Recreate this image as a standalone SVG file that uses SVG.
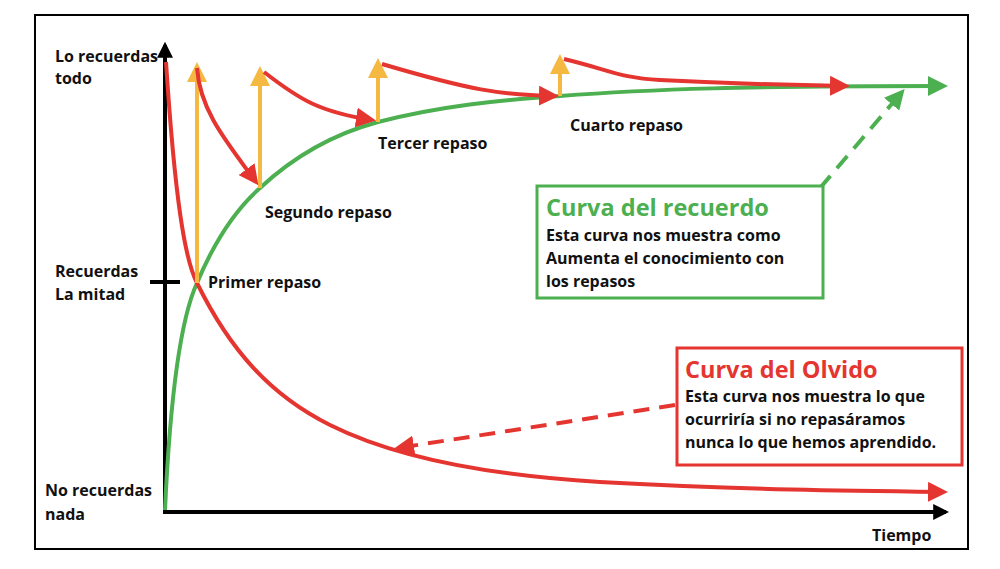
<svg xmlns="http://www.w3.org/2000/svg" width="1000" height="569" viewBox="0 0 1000 569">
<style>
text{font-family:"Open Sans","Liberation Sans",sans-serif;font-weight:bold;font-size:16px;fill:#111}
.h{font-size:23.5px}
.r{fill:none;stroke:#e53530;stroke-width:4}
.g{fill:none;stroke:#4caf50;stroke-width:4}
.y{fill:none;stroke:#f5b942;stroke-width:4}
</style>
<defs>
<marker id="ar" viewBox="0 0 10 10" refX="8" refY="5" markerWidth="5" markerHeight="5" orient="auto" markerUnits="strokeWidth"><path d="M0,0L10,5L0,10z" fill="#e53530"/></marker>
<marker id="ag" viewBox="0 0 10 10" refX="8" refY="5" markerWidth="5" markerHeight="5" orient="auto" markerUnits="strokeWidth"><path d="M0,0L10,5L0,10z" fill="#4caf50"/></marker>
<marker id="ay" viewBox="0 0 10 10" refX="8" refY="5" markerWidth="5" markerHeight="5" orient="auto" markerUnits="strokeWidth"><path d="M0,0L10,5L0,10z" fill="#f5b942"/></marker>
<marker id="ak" viewBox="0 0 10 10" refX="8" refY="5" markerWidth="4" markerHeight="4" orient="auto" markerUnits="strokeWidth"><path d="M0,0L10,5L0,10z" fill="#000"/></marker>
</defs>
<rect x="35" y="15" width="933" height="534" fill="#fff" stroke="#000" stroke-width="2"/>
<g id="connectors">
<line x1="165" y1="514" x2="165" y2="45" stroke="#000" stroke-width="4" marker-end="url(#ak)"/>
<line x1="163" y1="512" x2="946" y2="512" stroke="#000" stroke-width="4" marker-end="url(#ak)"/>
<line x1="150" y1="282" x2="180" y2="282" stroke="#000" stroke-width="4"/>
<path class="g" d="M165,510 C170,400 180,320 197,283 C215,240 235,210 260,188 C290,160 330,135 378,122 C440,106 500,100 560,96 C650,89 750,86 944,86" marker-end="url(#ag)"/>
<path class="r" d="M166,62 C175,200 185,260 197,283 C230,350 270,395 330,425 C400,460 500,476 600,482 C750,490 850,491 944,492" marker-end="url(#ar)"/>
<line class="y" x1="197" y1="283" x2="197" y2="66" marker-end="url(#ay)"/>
<line class="y" x1="260" y1="188" x2="260" y2="70" marker-end="url(#ay)"/>
<line class="y" x1="378" y1="122" x2="378" y2="62" marker-end="url(#ay)"/>
<line class="y" x1="560" y1="96" x2="560" y2="58" marker-end="url(#ay)"/>
<path class="r" d="M197,68 C200,110 225,140 256,182" marker-end="url(#ar)"/>
<path class="r" d="M264,72 C300,100 320,112 372,120" marker-end="url(#ar)"/>
<path class="r" d="M382,64 C470,90 500,95 555,96" marker-end="url(#ar)"/>
<path class="r" d="M564,59 C610,70 620,78 660,80 C720,83 780,85 846,86" marker-end="url(#ar)"/>
<path d="M820,188 L902,92" fill="none" stroke="#4caf50" stroke-width="4" stroke-dasharray="16,10" marker-end="url(#ag)"/>
<path d="M675,405 L398,448" fill="none" stroke="#e53530" stroke-width="4" stroke-dasharray="16,10" marker-end="url(#ar)"/>
</g>
<g id="axis-labels">
<text x="55" y="62">Lo recuerdas</text><text x="55" y="84">todo</text>
<text x="55" y="277">Recuerdas</text><text x="55" y="300">La mitad</text>
<text x="45" y="496">No recuerdas</text><text x="45" y="520">nada</text>
<text x="872" y="541">Tiempo</text>
</g>
<g id="point-labels">
<text x="208" y="288">Primer repaso</text>
<text x="265" y="218">Segundo repaso</text>
<text x="378" y="149">Tercer repaso</text>
<text x="570" y="131">Cuarto repaso</text>
</g>
<g id="recuerdo-box">
<rect x="537" y="186" width="286" height="112" fill="#fff" stroke="#4caf50" stroke-width="3"/>
<text class="h" x="546" y="216" style="fill:#4caf50">Curva del recuerdo</text>
<text x="546" y="241">Esta curva nos muestra como</text>
<text x="546" y="264">Aumenta el conocimiento con</text>
<text x="546" y="287">los repasos</text>
</g>
<g id="olvido-box">
<rect x="677" y="348" width="285" height="117" fill="#fff" stroke="#e53530" stroke-width="3"/>
<text class="h" x="685" y="378" style="fill:#e53530">Curva del Olvido</text>
<text x="685" y="402">Esta curva nos muestra lo que</text>
<text x="685" y="425">ocurriría si no repasáramos</text>
<text x="685" y="448">nunca lo que hemos aprendido.</text>
</g>
</svg>
